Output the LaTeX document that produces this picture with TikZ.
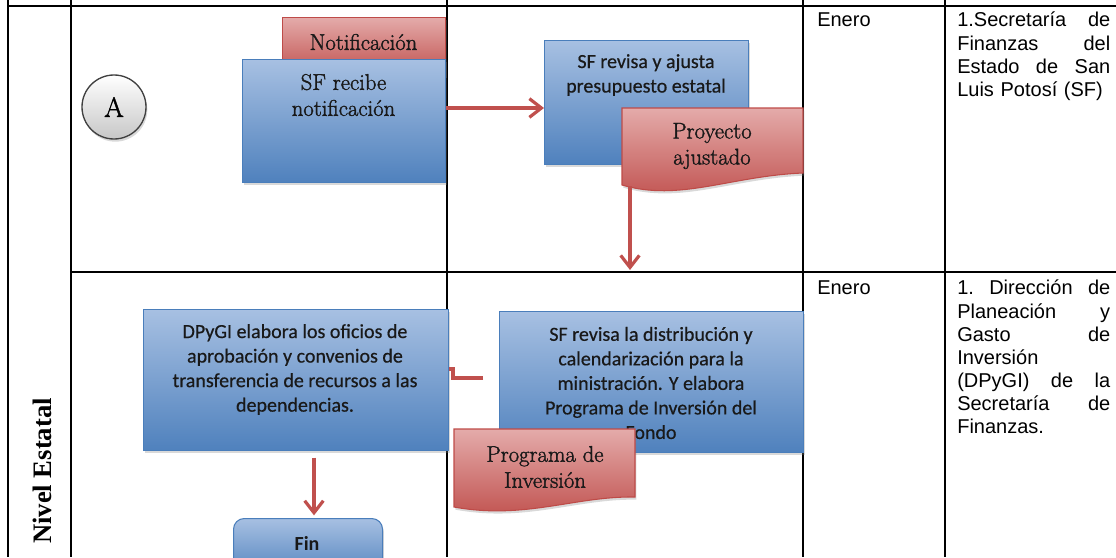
\documentclass[tikz,border=0pt]{standalone}
\usepackage{fontspec}
\newfontfamily\calibrif{Carlito}[FakeBold=0.5]
\newfontfamily\calibribf{Carlito Bold}
\newfontfamily\arialf{Liberation Sans}
\newfontfamily\timesf{Liberation Serif}
\newfontfamily\cambriaf{Latin Modern Roman}[FakeBold=1.6]
\usetikzlibrary{arrows.meta,shadows}
\definecolor{blueTop}{HTML}{A7C0E2}
\definecolor{blueBot}{HTML}{4F81BD}
\definecolor{blueLine}{HTML}{4A7EBB}
\definecolor{redTop}{HTML}{E4ABAA}
\definecolor{redBot}{HTML}{C0504D}
\definecolor{redLine}{HTML}{BE4B48}
\definecolor{arrowRed}{HTML}{C0504D}
\begin{document}
\begin{tikzpicture}[x=0.75pt,y=-0.75pt,
  gridline/.style={line width=1.3pt, black},
  shadowed/.style={drop shadow={opacity=0.3, shadow xshift=1pt, shadow yshift=-2pt}},
  boxsize/.style 2 args={minimum width=#1*0.75pt, minimum height=#2*0.75pt},
  bluebox/.style={draw=blueLine, line width=0.8pt, top color=blueTop, bottom color=blueBot,
                  inner sep=0pt, anchor=north west, shadowed},
  redbox/.style={draw=redLine, line width=0.8pt, top color=redTop, bottom color=redBot,
                 inner sep=0pt, anchor=north west, shadowed},
  docfill/.style={draw=redLine, line width=0.8pt, top color=redTop, bottom color=redBot, shadowed},
  caltext/.style={font=\calibrif\fontsize{15}{18.4}\selectfont, align=center, text=black!90, inner sep=0pt},
  sertext/.style={font=\cambriaf\fontsize{17}{19.5}\selectfont, align=center, text=black!90, inner sep=0pt},
  coltext/.style={font=\arialf\fontsize{15}{17.3}\selectfont, align=left, inner sep=0pt, anchor=north west},
  flow/.style={draw=arrowRed, line width=2.4pt, line join=round, -{Straight Barb[length=9pt,width=14pt]}},
  flowplain/.style={draw=arrowRed, line width=2.4pt, line join=miter}
]
\useasboundingbox (0,0) rectangle (1116,557);
\clip (0,0) rectangle (1116,557);

% table grid
\draw[gridline] (8,0) -- (8,557);
\draw[gridline] (71,0) -- (71,557);
\draw[gridline] (447,0) -- (447,557);
\draw[gridline] (803,0) -- (803,557);
\draw[gridline] (945,0) -- (945,557);
\draw[gridline] (8,6) -- (1116,6);
\draw[gridline] (71,272) -- (1116,272);

% lane label
\node[rotate=90, font=\timesf\bfseries\fontsize{20}{24}\selectfont, inner sep=0pt] (lvl) at (42,471) {Nivel Estatal};

% top row
\node[circle, minimum size=64*0.75pt, draw=black!75, line width=1pt, top color=white, bottom color=black!22, shadowed,
      font=\cambriaf\fontsize{21}{22}\selectfont] (A) at (114,107) {A};

\node[redbox, boxsize={163}{58}] (notif) at (282,17) {};
\node[sertext] (notiftxt) at (363.5,42) {Notificación};

\node[bluebox, boxsize={203}{123}] (recibe) at (242,59) {};
\node[sertext] (recibetxt) at (343.5,95) {SF recibe\\notificación};

\node[bluebox, boxsize={204}{124}] (revisa1) at (544,40) {};
\node[caltext] (revisa1txt) at (646,75) {SF revisa y ajusta\\presupuesto estatal};

\path[docfill] (622,108) -- (803,108) -- (803,173)
   .. controls (730,176) and (680,202) .. (622,185) -- cycle;
\node[sertext] (proy) at (712,146) {Proyecto\\ajustado};

\coordinate (r1y) at (0,108);
\draw[flow] (recibe.east |- r1y) -- (revisa1.west |- r1y);

\coordinate (pd1) at (630,186);
\coordinate (pd2) at (630,270);
\draw[flow] (pd1) -- (pd2);

% bottom row
\node[bluebox, boxsize={305}{141}] (dpygi) at (143,309) {};
\node[caltext] (dpygitxt) at (295,369.5) {DPyGI elabora los oficios de\\aprobación y convenios de\\transferencia de recursos a las\\dependencias.};

\node[bluebox, boxsize={149}{60}, rounded corners=8pt] (fin) at (233,518) {};
\node[caltext, font=\calibribf\fontsize{15}{18.4}\selectfont] (fintxt) at (307,543) {Fin};

\coordinate (fd) at (314,0);
\draw[flow, shorten <=5pt, shorten >=2pt] (dpygi.south -| fd) -- (fin.north -| fd);

\node[bluebox, boxsize={304}{141}] (revisa2) at (499,311) {};
\node[caltext] (revisa2txt) at (651,383) {SF revisa la distribución y\\calendarización para la\\ministración. Y elabora\\Programa de Inversión del\\Fondo};

\path[docfill] (454,429) -- (635,429) -- (635,497)
   .. controls (575,496) and (525,520) .. (454,507) -- cycle;
\node[sertext] (prog) at (545,467) {Programa de\\Inversión};

\coordinate (e1) at (483,378);
\coordinate (e2) at (453,369);
\draw[flowplain] (e1) -| (e2) -- (dpygi.east |- e2);

% text columns
\node[coltext] (mes1) at (817,12) {Enero};
\node[coltext, text width=114.75pt] (resp1) at (957,12)
  {1.Secretaría\hfill de\\Finanzas\hfill del\\Estado\hfill de\hfill San\\Luis Potosí (SF)};
\node[coltext] (mes2) at (817,280) {Enero};
\node[coltext, text width=114.75pt] (resp2) at (957,280)
  {1.\hfill Dirección\hfill de\\Planeación\hfill y\\Gasto\hfill de\\Inversión\\(DPyGI)\hfill de\hfill la\\Secretaría\hfill de\\Finanzas.};
\end{tikzpicture}
\end{document}
